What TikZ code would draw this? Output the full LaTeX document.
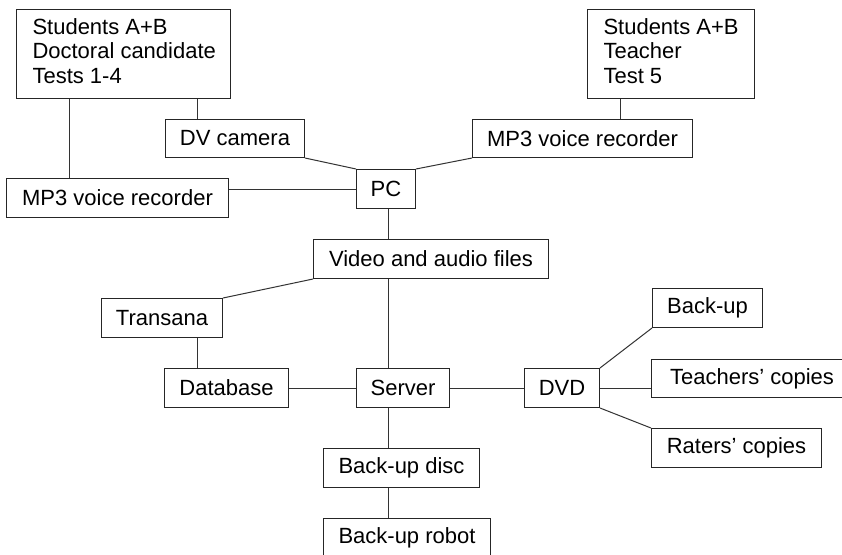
\documentclass[tikz,border=0pt]{standalone}
\usepackage{fontspec}
\setmainfont{Liberation Sans}
\begin{document}
\begin{tikzpicture}[x=1pt,y=-1pt,
  box/.style={draw=black!85,line width=1pt,rectangle,inner sep=0pt,anchor=north west,
    font=\fontsize{22}{24.5}\selectfont,text=black},
  lbox/.style={box,inner xsep=16pt},
  conn/.style={draw=black!80,line width=1pt}]
\useasboundingbox (0,0) rectangle (842,554);
\clip (0,0) rectangle (842,554);
\fill[white] (0,0) rectangle (842,554);
% nodes
\node[lbox,minimum height=89pt] (box1) at (16,9) {\makebox[182pt][l]{\begin{tabular}{@{}l@{}}Students A+B\\Doctoral candidate\\Tests 1-4\end{tabular}}};
\node[lbox,minimum height=89pt] (box2) at (587,9) {\makebox[135pt][l]{\begin{tabular}{@{}l@{}}Students A+B\\Teacher\\Test 5\end{tabular}}};
\node[box,minimum width=139pt,minimum height=38pt] (dv) at (165,119) {DV camera};
\node[box,minimum width=220pt,minimum height=38pt] (mp3R) at (472,119) {MP3 voice recorder};
\node[box,minimum width=222pt,minimum height=39pt] (mp3L) at (6,178) {MP3 voice recorder};
\node[box,minimum width=59pt,minimum height=39pt] (pc) at (356,169) {PC};
\node[box,minimum width=235pt,minimum height=39pt] (video) at (313,239) {Video and audio files};
\node[box,minimum width=121pt,minimum height=39pt] (transana) at (101,298) {Transana};
\node[box,minimum width=124pt,minimum height=39pt] (database) at (164,368) {Database};
\node[box,minimum width=93pt,minimum height=39pt] (server) at (356,368) {Server};
\node[box,minimum width=75pt,minimum height=39pt] (dvd) at (524,368) {DVD};
\node[box,minimum width=110pt,minimum height=39pt] (backup) at (652,288) {Back-up};
\node[box,minimum width=201pt,minimum height=38pt] (teachers) at (651,359) {Teachers’ copies};
\node[box,minimum width=170pt,minimum height=39pt] (raters) at (651,428) {Raters’ copies};
\node[box,minimum width=156pt,minimum height=39pt] (disc) at (323,448) {Back-up disc};
\node[box,minimum width=167pt,minimum height=39pt] (robot) at (323,518) {Back-up robot};
% connectors
\draw[conn] ([xshift=32pt]dv.north west) -- ([xshift=32pt]dv.north west |- box1.south);
\draw[conn] ([xshift=53pt]box1.south west) -- ([xshift=53pt]box1.south west |- mp3L.north);
\draw[conn] ([xshift=33pt]box2.south west) -- ([xshift=33pt]box2.south west |- mp3R.north);
\draw[conn] (pc.west) -- (pc.west -| mp3L.east);
\draw[conn] (dv.south east) -- (pc.north west);
\draw[conn] (mp3R.south west) -- (pc.north east);
\draw[conn] ([xshift=32pt]pc.south west) -- ([xshift=32pt]pc.south west |- video.north);
\draw[conn] ([xshift=32pt]server.north west) -- ([xshift=32pt]server.north west |- video.south);
\draw[conn] (transana.north east) -- (video.south west);
\draw[conn] ([xshift=96pt]transana.south west) -- ([xshift=96pt]transana.south west |- database.north);
\draw[conn] (database.east) -- (server.west);
\draw[conn] (server.east) -- (dvd.west);
\draw[conn] (dvd.north east) -- (backup.south west);
\draw[conn] (dvd.east) -- (dvd.east -| teachers.west);
\draw[conn] (dvd.south east) -- (raters.north west);
\draw[conn] ([xshift=32pt]server.south west) -- ([xshift=32pt]server.south west |- disc.north);
\draw[conn] ([xshift=65pt]disc.south west) -- ([xshift=65pt]disc.south west |- robot.north);
\end{tikzpicture}
\end{document}
